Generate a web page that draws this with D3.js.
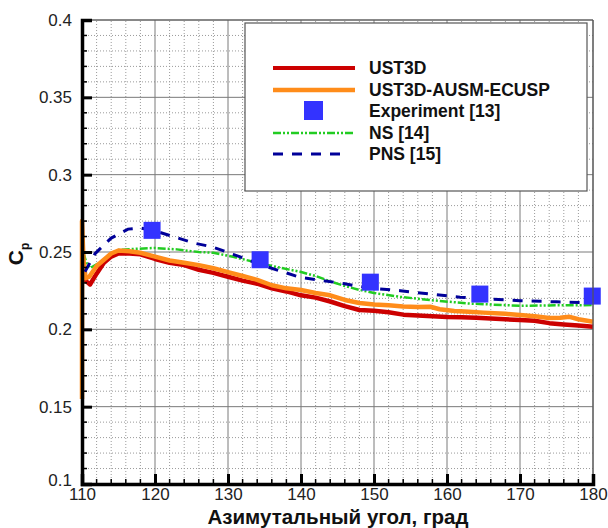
<!DOCTYPE html>
<html>
<head>
<meta charset="utf-8">
<script src="https://cdn.jsdelivr.net/npm/d3@7"></script>
<style>
  body { margin: 0; background: #fff; }
  svg { display: block; font-family: "Liberation Sans", Arial, sans-serif; }
</style>
</head>
<body>
<div id="chart"></div>
<script>
var xTicks = [110, 120, 130, 140, 150, 160, 170, 180];
var yTicks = [0.1, 0.15, 0.2, 0.25, 0.3, 0.35, 0.4];

var ust3dAngle = [110.2, 110.6, 111.1, 112, 113, 114, 115, 116.5, 118, 120, 122, 124, 126, 128, 130, 132, 134, 136, 138, 140, 142, 144, 146, 148, 150, 152, 154, 156, 158, 160, 162, 164, 166, 168, 170, 172, 174, 176, 178, 180];
var ust3dCp    = [0.236, 0.231, 0.229, 0.236, 0.243, 0.247, 0.249, 0.249, 0.2485, 0.2455, 0.243, 0.2415, 0.2385, 0.2365, 0.234, 0.2315, 0.2295, 0.2265, 0.2245, 0.222, 0.2205, 0.218, 0.215, 0.2125, 0.212, 0.211, 0.2095, 0.209, 0.2085, 0.208, 0.2078, 0.2075, 0.207, 0.2065, 0.206, 0.2055, 0.204, 0.2032, 0.2025, 0.2017];

var ausmAngle = [110, 110, 110.2, 110.5, 111, 112, 113, 114, 115, 116.5, 118, 120, 122, 124, 126, 128, 130, 132, 134, 136, 138, 140, 142, 144, 146, 148, 150, 152, 154, 156, 157.7, 159, 161, 163, 165, 168, 170, 172, 174, 175.5, 176.8, 178, 180];
var ausmCp    = [0.155, 0.27, 0.245, 0.233, 0.234, 0.241, 0.245, 0.249, 0.251, 0.2505, 0.2495, 0.247, 0.2445, 0.243, 0.2415, 0.2395, 0.237, 0.2345, 0.232, 0.2285, 0.2265, 0.2254, 0.2235, 0.222, 0.219, 0.217, 0.216, 0.2155, 0.2148, 0.2145, 0.2146, 0.213, 0.2118, 0.2114, 0.2108, 0.21, 0.2093, 0.2085, 0.2073, 0.2075, 0.2081, 0.2065, 0.2049];

var expAngle = [119.6, 134.4, 149.5, 164.5, 179.9];
var expCp    = [0.264, 0.245, 0.2305, 0.2228, 0.2215];

var nsAngle = [110.2, 110.6, 111.1, 112, 113.2, 114, 115, 117, 120, 123, 126, 128, 130.7, 134.4, 137, 139.9, 142, 144, 146, 148, 150, 153.6, 157.7, 163, 170, 175, 180];
var nsCp    = [0.2495, 0.243, 0.2396, 0.242, 0.2448, 0.248, 0.2513, 0.252, 0.2526, 0.2517, 0.250, 0.2495, 0.2469, 0.2426, 0.240, 0.2372, 0.2345, 0.231, 0.228, 0.2255, 0.2235, 0.221, 0.2189, 0.2167, 0.2152, 0.2155, 0.2157];

var pnsAngle = [110.4, 111.8, 114, 116.3, 118, 120, 121.8, 125.5, 127.8, 130.7, 135.3, 139.9, 143, 146, 148.1, 150, 153.6, 157.7, 161.8, 166, 170, 175, 180];
var pnsCp    = [0.2372, 0.249, 0.259, 0.2648, 0.2655, 0.2637, 0.261, 0.2556, 0.2534, 0.2485, 0.2405, 0.2336, 0.2315, 0.2295, 0.2276, 0.2265, 0.225, 0.2228, 0.2208, 0.2195, 0.2185, 0.2178, 0.2172];

var legendNames = ["UST3D", "UST3D-AUSM-ECUSP", "Experiment [13]", "NS [14]", "PNS [15]"];

var width = 608, height = 528;
var margin = {left: 82, right: 15, top: 20, bottom: 44};

var svg = d3.select("#chart").append("svg")
    .attr("width", width)
    .attr("height", height);

var x = d3.scaleLinear().domain([110, 180]).range([margin.left, width - margin.right]);
var y = d3.scaleLinear().domain([0.1, 0.4]).range([height - margin.bottom, margin.top]);

var x0 = x.range()[0], x1 = x.range()[1], y0 = y.range()[0], y1 = y.range()[1];

// minor grid (dotted)
var xMinor = d3.range(112, 180, 2).filter(function(v) { return v % 10 != 0; });
var yMinor = d3.range(11, 40, 1).filter(function(v) { return v % 5 != 0; }).map(function(v) { return v / 100; });

var grid = svg.append("g");
grid.selectAll(".xm").data(xMinor).enter().append("line")
    .attr("x1", function(d) { return x(d); }).attr("x2", function(d) { return x(d); })
    .attr("y1", y0).attr("y2", y1)
    .attr("stroke", "#9a9a9a").attr("stroke-width", 1).attr("stroke-dasharray", "1,2");
grid.selectAll(".ym").data(yMinor).enter().append("line")
    .attr("y1", function(d) { return y(d); }).attr("y2", function(d) { return y(d); })
    .attr("x1", x0).attr("x2", x1)
    .attr("stroke", "#9a9a9a").attr("stroke-width", 1).attr("stroke-dasharray", "1,2");
// major grid
grid.selectAll(".xM").data(xTicks).enter().append("line")
    .attr("x1", function(d) { return x(d); }).attr("x2", function(d) { return x(d); })
    .attr("y1", y0).attr("y2", y1)
    .attr("stroke", "#7a7a7a").attr("stroke-width", 1);
grid.selectAll(".yM").data(yTicks).enter().append("line")
    .attr("y1", function(d) { return y(d); }).attr("y2", function(d) { return y(d); })
    .attr("x1", x0).attr("x2", x1)
    .attr("stroke", "#7a7a7a").attr("stroke-width", 1);

// legend box sits over the grid
var lg = svg.append("g");
lg.append("rect")
    .attr("x", 245).attr("y", 23).attr("width", 342).attr("height", 168)
    .attr("fill", "#fff").attr("stroke", "#555").attr("stroke-width", 1.2);

// curves
var line = d3.line()
    .x(function(d) { return x(d[0]); })
    .y(function(d) { return y(d[1]); });

function pairs(a, b) { return a.map(function(v, i) { return [v, b[i]]; }); }

var plot = svg.append("g");

plot.append("path").datum(pairs(nsAngle, nsCp))
    .attr("d", line).attr("fill", "none")
    .attr("stroke", "#22cc22").attr("stroke-width", 2.5)
    .attr("stroke-dasharray", "8,2,2,2,2,2");

plot.append("path").datum(pairs(ust3dAngle, ust3dCp))
    .attr("d", line).attr("fill", "none")
    .attr("stroke", "#cc0000").attr("stroke-width", 4.5).attr("stroke-linejoin", "round");

plot.append("path").datum(pairs(ausmAngle, ausmCp))
    .attr("d", line).attr("fill", "none")
    .attr("stroke", "#ff8c1a").attr("stroke-width", 4.5).attr("stroke-linejoin", "round");

plot.append("path").datum(pairs(pnsAngle, pnsCp))
    .attr("d", line).attr("fill", "none")
    .attr("stroke", "#000099").attr("stroke-width", 3)
    .attr("stroke-dasharray", "10,9");

var sq = 17;
plot.selectAll(".exp").data(pairs(expAngle, expCp)).enter().append("rect")
    .attr("x", function(d) { return x(d[0]) - sq / 2; })
    .attr("y", function(d) { return y(d[1]) - sq / 2; })
    .attr("width", sq).attr("height", sq)
    .attr("fill", "#3333ff");

// frame: thin top/right, thick left/bottom
svg.append("line").attr("x1", x0).attr("x2", x1).attr("y1", y1).attr("y2", y1)
    .attr("stroke", "#555").attr("stroke-width", 1.2);
svg.append("line").attr("x1", x1).attr("x2", x1).attr("y1", y1).attr("y2", y0)
    .attr("stroke", "#555").attr("stroke-width", 1.2);

// axes via d3
var xAxis = svg.append("g").attr("transform", "translate(0," + y0 + ")")
    .call(d3.axisBottom(x).tickValues(xTicks).tickSize(-10).tickPadding(10).tickFormat(d3.format("d")));
var yAxis = svg.append("g").attr("transform", "translate(" + x0 + ",0)")
    .call(d3.axisLeft(y).tickValues(yTicks).tickSize(-10).tickPadding(10).tickFormat(function(d) { return d3.format("")(+d.toFixed(2)); }));

[xAxis, yAxis].forEach(function(a) {
  a.select(".domain").attr("stroke", "#000").attr("stroke-width", 3.5);
  a.selectAll(".tick line").attr("stroke", "#000").attr("stroke-width", 3);
  a.selectAll(".tick text").attr("fill", "#222").style("font-size", "17px");
});
xAxis.selectAll(".tick text").attr("dy", "0.35em");
// the lowest y label is nudged up in the reference
yAxis.selectAll(".tick text").filter(function(d) { return d == 0.1; }).attr("dy", "0.1em");

// minor ticks
svg.append("g").selectAll("line").data(xMinor).enter().append("line")
    .attr("x1", function(d) { return x(d); }).attr("x2", function(d) { return x(d); })
    .attr("y1", y0).attr("y2", y0 - 5)
    .attr("stroke", "#000").attr("stroke-width", 1.5);
svg.append("g").selectAll("line").data(yMinor).enter().append("line")
    .attr("y1", function(d) { return y(d); }).attr("y2", function(d) { return y(d); })
    .attr("x1", x0).attr("x2", x0 + 5)
    .attr("stroke", "#000").attr("stroke-width", 1.5);

// titles
svg.append("text")
    .attr("x", 338).attr("y", 524)
    .attr("text-anchor", "middle")
    .style("font-size", "20.5px").style("font-weight", "bold").attr("fill", "#111")
    .text("Азимутальный угол, град");

var cp = svg.append("text")
    .attr("transform", "translate(23,254) rotate(-90)")
    .attr("text-anchor", "middle")
    .style("font-size", "21px").style("font-weight", "bold").attr("fill", "#111");
cp.append("tspan").text("C");
cp.append("tspan").attr("dy", 6).style("font-size", "12px").text("p");

// legend entries
var rowY = [68, 90, 111, 133, 154];
var lx1 = 273, lx2 = 355, tx = 369;

lg.append("line").attr("x1", lx1).attr("x2", lx2).attr("y1", rowY[0]).attr("y2", rowY[0])
    .attr("stroke", "#cc0000").attr("stroke-width", 4);
lg.append("line").attr("x1", lx1).attr("x2", lx2).attr("y1", rowY[1]).attr("y2", rowY[1])
    .attr("stroke", "#ff8c1a").attr("stroke-width", 4.5);
lg.append("rect").attr("x", (lx1 + lx2) / 2 - 10).attr("y", rowY[2] - 10).attr("width", 19).attr("height", 19)
    .attr("fill", "#3333ff");
lg.append("line").attr("x1", lx1).attr("x2", lx2 - 2).attr("y1", rowY[3]).attr("y2", rowY[3])
    .attr("stroke", "#22cc22").attr("stroke-width", 2.5).attr("stroke-dasharray", "8,2,2,2,2,2");
lg.append("line").attr("x1", lx1).attr("x2", lx2 - 10).attr("y1", rowY[4]).attr("y2", rowY[4])
    .attr("stroke", "#000099").attr("stroke-width", 3).attr("stroke-dasharray", "10,9");

lg.selectAll(".lt").data(legendNames).enter().append("text")
    .attr("x", tx).attr("y", function(d, i) { return rowY[i]; })
    .attr("dy", "0.36em")
    .style("font-size", "17.5px").style("font-weight", "bold").attr("fill", "#111")
    .text(function(d) { return d; });
</script>
</body>
</html>
